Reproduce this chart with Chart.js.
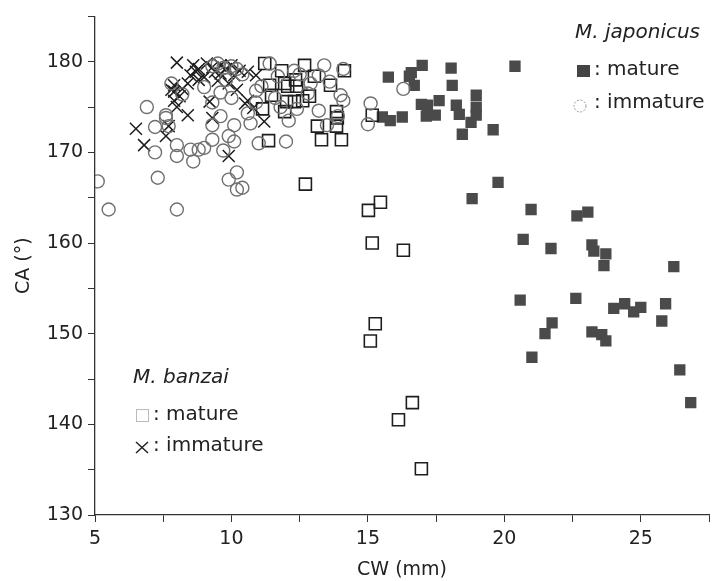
<!DOCTYPE html>
<html>
<head>
<meta charset="utf-8">
<script src="https://cdn.jsdelivr.net/npm/chart.js@4"></script>
<style>
  body { margin: 0; background: #fff; }
  #wrap { width: 715px; height: 581px; }
</style>
</head>
<body>
<div id="wrap"><canvas id="myChart"></canvas></div>
<script>
// M. japonicus, mature (filled squares)
const japMatureCW = [15.75, 16.59, 16.99, 16.52, 16.70, 18.05, 18.09, 20.39, 18.97, 16.96, 17.18, 17.61, 18.24, 17.14, 17.47, 18.35, 18.97, 18.97, 18.78, 18.46, 19.59, 15.53, 15.82, 16.26, 19.77, 18.82, 20.98, 22.66, 23.06, 20.69, 21.71, 23.21, 23.28, 23.72, 23.65, 26.21, 20.58, 22.62, 24.01, 24.41, 24.74, 25.00, 25.77, 25.91, 21.01, 21.49, 21.75, 23.21, 23.57, 23.72, 26.43, 26.83];
const japMatureCA = [178.3, 178.8, 179.6, 178.4, 177.4, 179.3, 177.4, 179.5, 176.3, 175.3, 175.2, 175.7, 175.2, 174.0, 174.1, 174.2, 175.0, 174.1, 173.3, 172.0, 172.5, 173.9, 173.5, 173.9, 166.7, 164.9, 163.7, 163.0, 163.4, 160.4, 159.4, 159.8, 159.1, 158.8, 157.5, 157.4, 153.7, 153.9, 152.8, 153.3, 152.4, 152.9, 151.4, 153.3, 147.4, 150.0, 151.2, 150.2, 149.9, 149.2, 146.0, 142.4];

// M. japonicus, immature (open circles)
const japImmCW = [5.1, 5.5, 6.9, 7.2, 7.2, 7.3, 8.0, 7.6, 7.8, 8.0, 8.0, 8.5, 8.6, 8.8, 9.0, 9.3, 9.3, 9.3, 9.6, 9.7, 9.9, 10.1, 10.1, 9.9, 10.2, 10.2, 10.4, 10.7, 10.6, 11.0, 12.0, 12.1, 13.2, 13.4, 13.6, 14.1, 14.0, 13.9, 14.1, 9.5, 11.1, 12.9, 12.3, 11.4, 16.3, 15.1, 15.0, 9.3, 9.7, 10.0, 10.2, 9.0, 9.8, 10.4, 10.9, 11.7, 12.5, 12.8, 13.2, 11.6, 10.9, 8.2, 9.6, 12.4, 13.5, 11.8, 10.0, 7.7, 7.6];
const japImmCA = [166.8, 163.7, 175.0, 172.8, 170.0, 167.2, 163.7, 173.8, 177.6, 169.6, 170.8, 170.3, 169.0, 170.3, 170.5, 171.4, 173.0, 175.5, 174.0, 170.2, 171.8, 171.2, 173.0, 167.0, 167.8, 165.9, 166.1, 173.2, 174.3, 171.0, 171.2, 173.5, 174.6, 179.6, 177.8, 175.7, 176.3, 174.0, 179.2, 179.8, 177.3, 177.6, 179.0, 179.8, 177.0, 175.4, 173.1, 179.5, 179.3, 179.5, 179.2, 177.2, 178.0, 178.6, 176.8, 178.4, 178.6, 176.5, 178.5, 176.0, 175.5, 176.4, 176.6, 174.8, 173.0, 175.0, 176.0, 172.9, 174.1];

// M. banzai, mature (open squares)
const banMatureCW = [15.02, 15.46, 15.16, 16.30, 15.27, 15.09, 16.63, 16.12, 16.96, 12.71, 15.16, 11.22, 11.40, 11.47, 11.14, 11.36, 11.84, 11.95, 12.06, 11.95, 12.02, 12.31, 12.39, 12.61, 12.68, 13.04, 13.15, 13.30, 13.85, 13.88, 13.85, 14.03, 14.14, 13.63, 12.35, 12.86];
const banMatureCA = [163.6, 164.5, 160.0, 159.2, 151.1, 149.2, 142.4, 140.5, 135.1, 166.5, 174.1, 179.8, 177.4, 176.3, 174.8, 171.3, 179.0, 177.6, 177.3, 174.5, 175.6, 175.6, 177.3, 175.7, 179.6, 178.4, 172.9, 171.4, 174.5, 173.8, 172.9, 171.4, 179.0, 177.4, 178.0, 176.2];

// M. banzai, immature (crosses)
const banImmCW = [8.0, 6.5, 6.8, 7.6, 7.7, 8.4, 8.0, 7.9, 7.9, 7.9, 8.2, 8.4, 8.5, 8.7, 8.6, 8.8, 9.1, 9.3, 9.6, 9.6, 9.8, 10.1, 9.9, 10.2, 10.3, 10.6, 10.9, 10.6, 10.5, 10.8, 11.2, 9.9, 9.3, 9.2, 9.5, 9.0, 8.8, 8.1, 7.8, 10.0, 9.4];
const banImmCA = [179.9, 172.6, 170.8, 171.8, 172.9, 174.1, 175.0, 175.7, 176.7, 177.4, 177.0, 177.6, 178.5, 178.9, 179.6, 179.2, 179.8, 179.4, 178.7, 179.6, 179.2, 178.5, 177.6, 176.9, 179.0, 178.9, 178.5, 175.7, 175.4, 174.9, 173.4, 169.6, 173.8, 175.6, 177.9, 178.3, 178.0, 176.2, 176.9, 179.6, 178.9];

// labelled ticks (minor ticks halfway between)
const xLabels = [5, 10, 15, 20, 25];
const yLabels = [130, 140, 150, 160, 170, 180];

function pts(xs, ys) {
  return xs.map((x, i) => ({ x: x, y: ys[i] }));
}

const FONT = '"DejaVu Sans", Verdana, sans-serif';

const legendText = {
  id: 'legendText',
  afterDraw(chart) {
    const ctx = chart.ctx;
    ctx.save();
    ctx.textBaseline = 'middle';
    ctx.fillStyle = '#222';

    ctx.font = 'italic 20px ' + FONT;
    ctx.fillText('M. japonicus', 575, 33);
    ctx.fillText('M. banzai', 133, 378);

    ctx.font = '20px ' + FONT;
    ctx.fillText(': mature', 594, 70);
    ctx.fillText(': immature', 594, 103);
    ctx.fillText(': mature', 153, 415);
    ctx.fillText(': immature', 153, 446);

    // legend markers
    ctx.fillStyle = '#444';
    ctx.fillRect(577, 65, 13, 12);
    ctx.strokeStyle = '#999';
    ctx.lineWidth = 1;
    ctx.setLineDash([2, 1.5]);
    ctx.beginPath();
    ctx.arc(580, 106, 6, 0, Math.PI * 2);
    ctx.stroke();
    ctx.setLineDash([]);
    ctx.strokeStyle = '#bbb';
    ctx.strokeRect(136.5, 409.5, 12, 12);
    ctx.strokeStyle = '#222';
    ctx.lineWidth = 1.5;
    ctx.beginPath();
    ctx.moveTo(136, 442); ctx.lineTo(148, 453);
    ctx.moveTo(148, 442); ctx.lineTo(136, 453);
    ctx.stroke();
    ctx.restore();
  }
};

new Chart(document.getElementById('myChart'), {
  type: 'scatter',
  data: {
    datasets: [
      {
        label: 'M. japonicus immature',
        data: pts(japImmCW, japImmCA),
        pointStyle: 'circle',
        pointRadius: 6.5,
        borderColor: '#707070',
        backgroundColor: 'rgba(0,0,0,0)',
        borderWidth: 1.4
      },
      {
        label: 'M. banzai immature',
        data: pts(banImmCW, banImmCA),
        pointStyle: 'crossRot',
        pointRadius: 8.5,
        borderColor: '#1e1e1e',
        borderWidth: 1.5
      },
      {
        label: 'M. banzai mature',
        data: pts(banMatureCW, banMatureCA),
        pointStyle: 'rect',
        pointRadius: 8.5,
        borderColor: '#1e1e1e',
        backgroundColor: 'rgba(0,0,0,0)',
        borderWidth: 1.6
      },
      {
        label: 'M. japonicus mature',
        data: pts(japMatureCW, japMatureCA),
        pointStyle: 'rect',
        pointRadius: 8,
        borderColor: '#4a4a4a',
        backgroundColor: '#4a4a4a',
        borderWidth: 0
      }
    ]
  },
  options: {
    responsive: true,
    maintainAspectRatio: false,
    animation: false,
    events: [],
    layout: { autoPadding: false, padding: { top: 14, right: 6, left: 0, bottom: 0 } },
    plugins: {
      legend: { display: false },
      tooltip: { enabled: false }
    },
    scales: {
      x: {
        type: 'linear',
        min: 5,
        max: 27.5,
        afterFit(scale) { scale.height = 66; },
        ticks: {
          stepSize: 2.5,
          autoSkip: false,
          maxRotation: 0,
          padding: 6,
          color: '#222',
          font: { family: FONT, size: 19 },
          callback: v => xLabels.includes(v) ? String(v) : ''
        },
        grid: { drawOnChartArea: false, tickLength: 7, color: '#333' },
        border: { color: '#333', width: 1.3 },
        title: {
          display: true,
          text: 'CW (mm)',
          color: '#222',
          font: { family: FONT, size: 19 },
          padding: { top: 2, bottom: 0 }
        }
      },
      y: {
        type: 'linear',
        min: 130,
        max: 185,
        afterFit(scale) { scale.width = 95; },
        ticks: {
          stepSize: 5,
          autoSkip: false,
          padding: 5,
          color: '#222',
          font: { family: FONT, size: 19 },
          callback: v => yLabels.includes(v) ? String(v) : ''
        },
        grid: { drawOnChartArea: false, tickLength: 7, color: '#333' },
        border: { color: '#333', width: 1.3 },
        title: {
          display: true,
          text: 'CA (°)',
          color: '#222',
          font: { family: FONT, size: 19 },
          padding: { top: 13, bottom: 0 }
        }
      }
    }
  },
  plugins: [legendText]
});
</script>
</body>
</html>
